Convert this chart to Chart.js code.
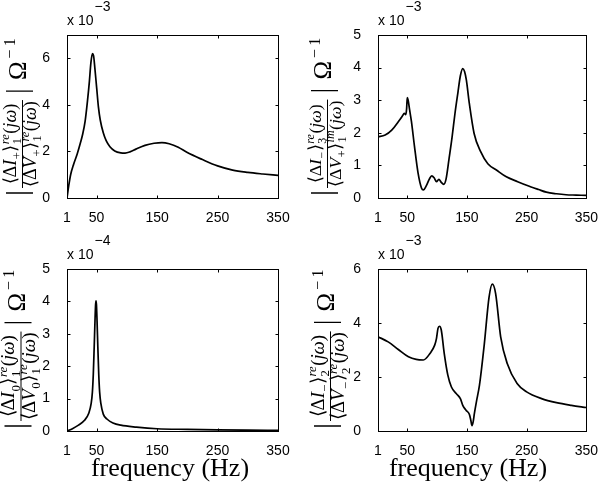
<!DOCTYPE html>
<html>
<head>
<meta charset="utf-8">
<script src="https://cdn.jsdelivr.net/npm/chart.js@4.4.1/dist/chart.umd.min.js"></script>
<style>
  html, body { margin: 0; padding: 0; background: #fff; }
  #wrap { position: relative; width: 602px; height: 487px; overflow: hidden; }
  #wrap canvas { position: absolute; left: 0; top: 0; }
</style>
</head>
<body>
<div id="wrap">
  <canvas id="tl" width="602" height="487"></canvas>
  <canvas id="tr" width="602" height="487"></canvas>
  <canvas id="bl" width="602" height="487"></canvas>
  <canvas id="br" width="602" height="487"></canvas>
</div>
<script>
// ---- data (values shown in units of the axis multiplier) ----
const xTicks = [1, 50, 150, 250, 350];

const freqTL = [1, 4, 7, 12, 18, 23, 27, 31, 35, 38, 40.5, 43, 45, 47, 50, 53, 56, 61, 66, 72, 80, 90, 97, 105, 115, 130, 145, 158, 170, 185, 200, 225, 250, 275, 300, 325, 350];
const magTL = [0, 0.55, 1.0, 1.45, 1.9, 2.35, 2.75, 3.3, 4.2, 5.0, 5.8, 6.2, 6.1, 5.6, 4.75, 3.9, 3.35, 2.8, 2.45, 2.2, 2.02, 1.94, 1.93, 1.98, 2.1, 2.26, 2.35, 2.38, 2.33, 2.18, 1.95, 1.65, 1.38, 1.2, 1.1, 1.03, 0.97];
const yTicksTL = [0, 2, 4, 6];

const freqTR = [1, 13, 24, 35, 42, 45, 47.5, 49, 50, 51.5, 54, 57, 62, 68, 74, 77, 82, 87, 91, 95, 99, 103, 107, 111, 115, 120, 125, 130, 135, 139, 143, 146, 149, 154, 162, 173, 185, 200, 216, 235, 250, 270, 283, 300, 316, 333, 350];
const magTR = [1.88, 1.93, 2.08, 2.34, 2.52, 2.6, 2.56, 2.75, 3.08, 3.0, 2.7, 2.35, 1.6, 0.78, 0.3, 0.25, 0.38, 0.58, 0.68, 0.62, 0.5, 0.57, 0.48, 0.42, 0.58, 1.2, 1.85, 2.6, 3.25, 3.75, 3.97, 3.88, 3.62, 2.9, 1.98, 1.42, 1.05, 0.85, 0.65, 0.5, 0.39, 0.26, 0.18, 0.13, 0.1, 0.09, 0.08];
const yTicksTR = [0, 1, 2, 3, 4, 5];

const freqBL = [1, 10, 20, 30, 37, 41, 43, 44.5, 46, 47.3, 48.3, 49, 49.7, 50.7, 52, 53.5, 55, 57, 61, 67, 77, 90, 116, 150, 200, 250, 300, 350];
const magBL = [0, 0.07, 0.18, 0.33, 0.55, 0.85, 1.2, 1.75, 2.6, 3.4, 3.9, 4.02, 3.9, 3.4, 2.6, 1.75, 1.2, 0.85, 0.52, 0.37, 0.25, 0.18, 0.12, 0.07, 0.05, 0.035, 0.025, 0.02];
const yTicksBL = [0, 1, 2, 3, 4, 5];

const freqBR = [1, 18, 35, 52, 65, 77, 88, 96, 99, 101.5, 104, 107, 112, 118, 124, 132, 139, 143, 148.5, 154, 156.5, 158.5, 160.5, 162.5, 166, 171, 179, 187, 192.5, 198, 206.5, 217.5, 234, 250, 275, 300, 325, 350];
const magBR = [3.49, 3.3, 3.02, 2.75, 2.65, 2.63, 2.87, 3.18, 3.43, 3.8, 3.88, 3.74, 2.87, 2.07, 1.63, 1.39, 1.2, 0.95, 0.77, 0.62, 0.4, 0.2, 0.35, 0.65, 1.1, 1.7, 3.2, 4.95, 5.44, 5.1, 3.49, 2.5, 1.76, 1.45, 1.2, 1.05, 0.95, 0.87];
const yTicksBR = [0, 2, 4, 6];

const SANS = '"Liberation Sans", Arial, Helvetica, sans-serif';
const SERIF = '"Liberation Serif", "Times New Roman", serif';

// pieces of the rotated y label: < Δ sym_sgn >_n^sup (jω)
function bracket(sym, sgn, n, sup) {
  return [
    { t: '\u27E8' }, { t: '\u0394' }, { t: sym, i: true }, { sub: sgn },
    { t: '\u27E9' }, { sup: sup, sub: n },
    { t: '(' }, { t: 'j', i: true }, { t: '\u03C9', i: true }, { t: ')' }
  ];
}

function drawMath(ctx, parts, x, y, size, draw) {
  let cx = x;
  for (const p of parts) {
    if (p.t !== undefined) {
      ctx.font = (p.i ? 'italic ' : '') + size + 'px ' + SERIF;
      if (draw) ctx.fillText(p.t, cx, y);
      cx += ctx.measureText(p.t).width;
    } else {
      const s = size * 0.68;
      let w = 0;
      if (p.sup) {
        ctx.font = 'italic ' + s + 'px ' + SERIF;
        if (draw) ctx.fillText(p.sup, cx + 0.5, y - size * 0.38);
        w = Math.max(w, ctx.measureText(p.sup).width);
      }
      if (p.sub) {
        ctx.font = s + 'px ' + SERIF;
        if (draw) ctx.fillText(p.sub, cx + 0.5, y + size * 0.3);
        w = Math.max(w, ctx.measureText(p.sub).width);
      }
      cx += w + 1;
    }
  }
  return cx - x;
}

function drawYLabel(ctx, lab) {
  ctx.save();
  ctx.translate(lab.ox, lab.oy);
  ctx.rotate(-Math.PI / 2);
  ctx.fillStyle = '#000';
  ctx.strokeStyle = '#000';
  ctx.textBaseline = 'alphabetic';
  ctx.textAlign = 'left';
  // fit the fraction into its width
  let size = 16;
  const w0 = Math.max(drawMath(ctx, lab.num, 0, 0, size, false), drawMath(ctx, lab.den, 0, 0, size, false));
  size = size * lab.fracW / w0;
  const wn = drawMath(ctx, lab.num, 0, 0, size, false);
  const wd = drawMath(ctx, lab.den, 0, 0, size, false);
  const W = Math.max(wn, wd) + 2;
  const u0 = 9;
  ctx.lineWidth = 1.3;
  ctx.beginPath();
  ctx.moveTo(4, 6); ctx.lineTo(4, 33);
  ctx.moveTo(u0 + W + 9, 6); ctx.lineTo(u0 + W + 9, 33);
  ctx.stroke();
  ctx.lineWidth = 1;
  ctx.beginPath();
  ctx.moveTo(u0, 22.5); ctx.lineTo(u0 + W, 22.5);
  ctx.stroke();
  drawMath(ctx, lab.num, u0 + (W - wn) / 2, 15.5, size, true);
  drawMath(ctx, lab.den, u0 + (W - wd) / 2, 36, size, true);
  const uo = u0 + W + 20;
  ctx.font = '25px ' + SERIF;
  ctx.fillText('\u03A9', uo, 26);
  const wo = ctx.measureText('\u03A9').width;
  ctx.font = '16px ' + SERIF;
  ctx.fillText('\u2212\u202F1', uo + wo + 3, 15);
  ctx.restore();
}

const panels = [
  { id: 'tl', freq: freqTL, mag: magTL, yTicks: yTicksTL, yMax: 7, exp: '\u22123', area: { l: 67, r: 278, t: 35, b: 198 },
    lab: { num: bracket('I', '+', '1', 're'), den: bracket('V', '+', '1', 're'), fracW: 86, ox: 0, oy: 197 } },
  { id: 'tr', freq: freqTR, mag: magTR, yTicks: yTicksTR, yMax: 5, exp: '\u22123', area: { l: 378, r: 588, t: 35, b: 198 },
    lab: { num: bracket('I', '\u2212', '3', 're'), den: bracket('V', '+', '1', 'im'), fracW: 86, ox: 305, oy: 197 } },
  { id: 'bl', freq: freqBL, mag: magBL, yTicks: yTicksBL, yMax: 5, exp: '\u22124', area: { l: 67, r: 278, t: 269, b: 431 },
    lab: { num: bracket('I', '0', '1', 're'), den: bracket('V', '0', '1', 're'), fracW: 88, ox: -1.5, oy: 430 },
    xlab: { x: 170, y: 476 } },
  { id: 'br', freq: freqBR, mag: magBR, yTicks: yTicksBR, yMax: 6, exp: '\u22123', area: { l: 378, r: 588, t: 269, b: 431 },
    lab: { num: bracket('I', '\u2212', '2', 're'), den: bracket('V', '\u2212', '2', 're'), fracW: 88, ox: 308, oy: 430 },
    xlab: { x: 468, y: 476 } }
];

// box, inward ticks, multiplier and axis labels
function framePlugin(p) {
  return {
    id: 'frame',
    afterDraw(chart) {
      const { ctx, chartArea: a, scales } = chart;
      ctx.save();
      ctx.strokeStyle = '#000';
      ctx.lineWidth = 1;
      const L = Math.round(a.left) + 0.5, R = Math.round(a.right) + 0.5;
      const T = Math.round(a.top) + 0.5, B = Math.round(a.bottom) + 0.5;
      ctx.strokeRect(L, T, R - L, B - T);
      ctx.beginPath();
      xTicks.forEach(v => {
        const x = Math.round(scales.x.getPixelForValue(v)) + 0.5;
        ctx.moveTo(x, B); ctx.lineTo(x, B - 3);
        ctx.moveTo(x, T); ctx.lineTo(x, T + 3);
      });
      p.yTicks.forEach(v => {
        const y = Math.round(scales.y.getPixelForValue(v)) + 0.5;
        ctx.moveTo(L, y); ctx.lineTo(L + 3, y);
        ctx.moveTo(R, y); ctx.lineTo(R - 3, y);
      });
      ctx.stroke();

      ctx.fillStyle = '#000';
      ctx.textAlign = 'left';
      ctx.textBaseline = 'alphabetic';
      ctx.font = '14px ' + SANS;
      ctx.fillText('x 10', a.left, a.top - 10);
      const w = ctx.measureText('x 10').width;
      ctx.fillText(p.exp, a.left + w + 1, a.top - 24);

      if (p.xlab) {
        ctx.font = '26px ' + SERIF;
        ctx.textAlign = 'center';
        ctx.fillText('frequency (Hz)', p.xlab.x, p.xlab.y);
      }
      ctx.restore();
      drawYLabel(ctx, p.lab);
    }
  };
}

function makeChart(p) {
  const canvas = document.getElementById(p.id);
  const H = canvas.height, Wc = canvas.width;
  return new Chart(canvas, {
    type: 'line',
    data: {
      datasets: [{
        data: p.freq.map((f, i) => ({ x: f, y: p.mag[i] })),
        borderColor: '#000',
        borderWidth: 1.7,
        pointRadius: 0,
        fill: false,
        cubicInterpolationMode: 'monotone'
      }]
    },
    options: {
      responsive: false,
      animation: false,
      events: [],
      layout: { padding: { left: 0, top: p.area.t, right: Wc - p.area.r, bottom: 0 } },
      plugins: { legend: { display: false }, tooltip: { enabled: false } },
      scales: {
        x: {
          type: 'linear', min: 1, max: 350,
          grid: { display: false }, border: { display: false },
          afterBuildTicks: s => { s.ticks = xTicks.map(v => ({ value: v })); },
          afterFit: s => { s.height = H - p.area.b; },
          ticks: { autoSkip: false, maxRotation: 0, padding: 4, color: '#000', font: { family: SANS, size: 14 } }
        },
        y: {
          type: 'linear', min: 0, max: p.yMax,
          grid: { display: false }, border: { display: false },
          afterBuildTicks: s => { s.ticks = p.yTicks.map(v => ({ value: v })); },
          afterFit: s => { s.width = p.area.l; },
          ticks: { padding: 9, color: '#000', font: { family: SANS, size: 14 } }
        }
      }
    },
    plugins: [framePlugin(p)]
  });
}

panels.forEach(makeChart);
</script>
</body>
</html>
